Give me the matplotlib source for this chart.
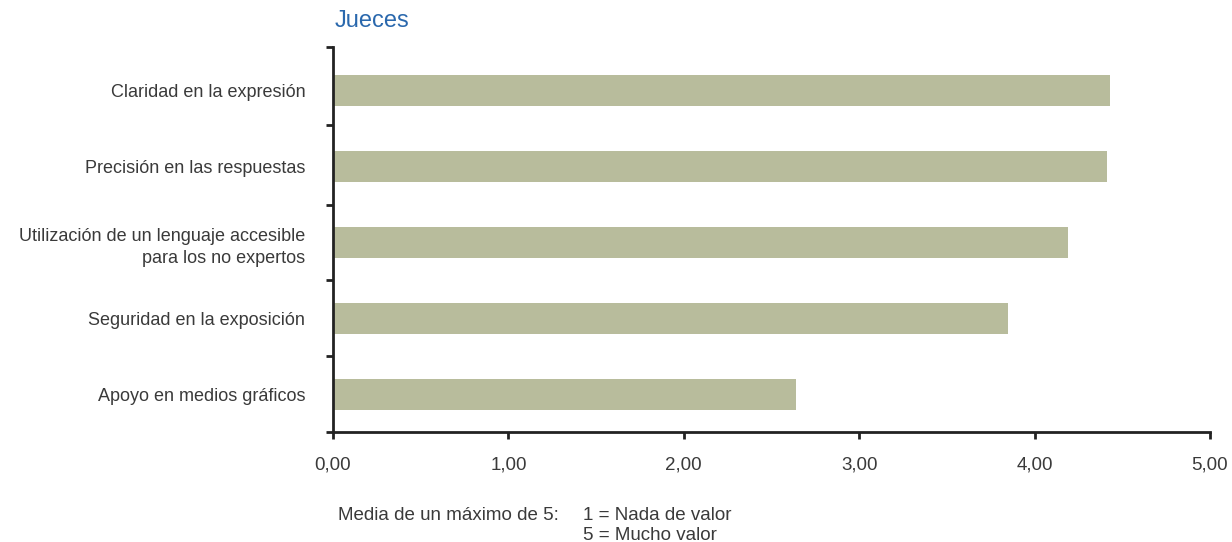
import numpy as np
from matplotlib import pyplot as plt
from matplotlib.ticker import FixedLocator

# datos
categorias = ["Claridad en la expresión",
              "Precisión en las respuestas",
              "Utilización de un lenguaje accesible\npara los no expertos",
              "Seguridad en la exposición",
              "Apoyo en medios gráficos"]
valores = [4.43, 4.41, 4.19, 3.85, 2.64]
xticks = [0, 1, 2, 3, 4, 5]
xlabels = ["0,00", "1,00", "2,00", "3,00", "4,00", "5,00"]

plt.rcParams['font.family'] = ['Liberation Sans', 'DejaVu Sans']
GRIS = "#3a3a3a"

fig = plt.figure(figsize=(12.32, 5.42), dpi=100)
ax = fig.add_axes([333 / 1232, 1 - 432 / 542, 877 / 1232, 385 / 542])

n = len(categorias)
y = np.arange(n)[::-1]
ax.barh(y, valores, height=0.41, color="#b8bc9c")

ax.set_xlim(0, 5)
ax.set_ylim(-0.5, n - 0.42)
ax.set_xticks(xticks)
ax.set_xticklabels(xlabels, fontsize=13.5, color=GRIS)
ax.set_yticks(y)
ax.set_yticklabels(categorias, fontsize=13, color=GRIS, ha="right", multialignment="right",
                   linespacing=1.45)
# marcas entre categorias
ax.yaxis.set_minor_locator(FixedLocator(list(np.arange(-0.5, n - 2, 1.0)) + [n - 1.45, n - 0.42]))
ax.tick_params(axis="y", which="major", length=0, pad=20)
ax.tick_params(axis="y", which="minor", length=5, width=2, color="#222222")
ax.tick_params(axis="x", length=5, width=2, color="#222222", pad=13)

for s in ["top", "right"]:
    ax.spines[s].set_visible(False)
for s in ["left", "bottom"]:
    ax.spines[s].set_linewidth(2)
    ax.spines[s].set_color("#222222")

fig.text(335 / 1232, 1 - 21 / 542, "Jueces", fontsize=17, color="#2a68ad", va="center")
fig.text(338 / 1232, 1 - 515 / 542, "Media de un máximo de 5:", fontsize=13.5, color=GRIS, va="center")
fig.text(583 / 1232, 1 - 515 / 542, "1 = Nada de valor", fontsize=13.5, color=GRIS, va="center")
fig.text(583 / 1232, 1 - 535 / 542, "5 = Mucho valor", fontsize=13.5, color=GRIS, va="center")

fig.savefig("out.png", dpi=100)
